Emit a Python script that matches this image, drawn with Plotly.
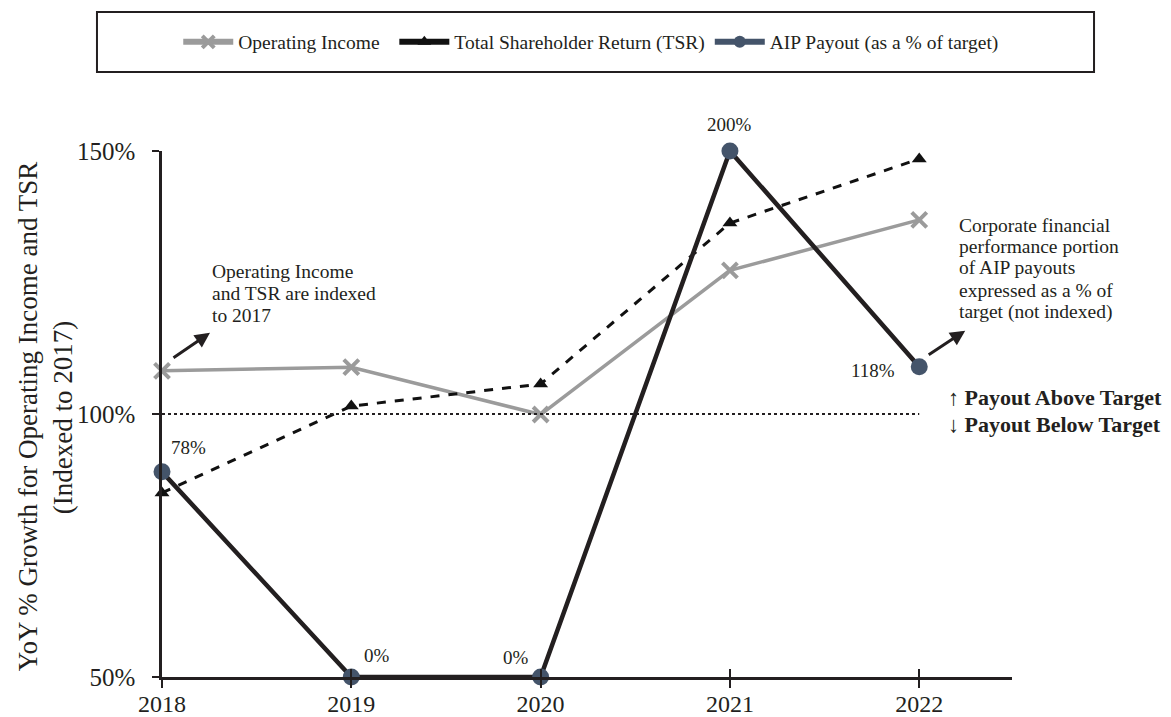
import plotly.graph_objects as go

years = [2018, 2019, 2020, 2021, 2022]
operating_income = [108.2, 108.9, 99.9, 127.3, 136.9]
tsr = [85.0, 101.5, 105.7, 136.3, 148.5]
aip_payout = [78, 0, 0, 200, 118]
y_ticks = [50, 100, 150]

FONT = "Liberation Serif"
INK = "#231f20"
GRAY = "#9b9b9b"
SLATE = "#44546a"
NB = "\u00a0"

fig = go.Figure()

# real traces
fig.add_trace(go.Scatter(
    x=years, y=operating_income, mode="lines+markers", showlegend=False,
    line=dict(color=GRAY, width=3.5),
    marker=dict(symbol="x-thin", size=15, line=dict(color=GRAY, width=4)),
    cliponaxis=False))
fig.add_trace(go.Scatter(
    x=years, y=tsr, mode="lines+markers", showlegend=False,
    line=dict(color="#111111", width=3, dash="dash"),
    marker=dict(symbol="triangle-up", size=13, color="#111111"),
    cliponaxis=False))
fig.add_trace(go.Scatter(
    x=years, y=aip_payout, mode="lines+markers", showlegend=False, yaxis="y2",
    line=dict(color=INK, width=4.5),
    marker=dict(symbol="circle", size=17, color=SLATE),
    cliponaxis=False))
# empty trace so the upper half of the crossing x ticks is drawn
fig.add_trace(go.Scatter(x=[None], y=[None], xaxis="x2", showlegend=False, hoverinfo="skip"))

# legend entries
fig.add_trace(go.Scatter(x=[None], y=[None], mode="lines+markers", name="Operating Income" + NB * 2,
                         line=dict(color=GRAY, width=6),
                         marker=dict(symbol="x-thin", size=12, line=dict(color=GRAY, width=4))))
fig.add_trace(go.Scatter(x=[None], y=[None], mode="lines+markers", name="Total Shareholder Return (TSR)",
                         line=dict(color="#111111", width=6),
                         marker=dict(symbol="triangle-up", size=12, color="#111111")))
fig.add_trace(go.Scatter(x=[None], y=[None], mode="lines+markers", name="AIP Payout (as a % of target)",
                         line=dict(color=SLATE, width=6),
                         marker=dict(symbol="circle", size=12, color=SLATE)))

annotations = []
# data labels for AIP
label_shifts = [(26, 24), (26, 22), (-25, 20), (0, 27), (-46, -4)]
for xv, v, (dx, dy) in zip(years, aip_payout, label_shifts):
    annotations.append(dict(x=xv, y=v, xref="x", yref="y2", text=f"{v}%", showarrow=False,
                            xshift=dx, yshift=dy, font=dict(family=FONT, size=19, color=INK)))

# arrows
annotations.append(dict(x=years[0], y=operating_income[0], xref="x", yref="y", text="",
                        showarrow=True, arrowhead=2, arrowsize=1, arrowwidth=3, arrowcolor=INK,
                        ax=-38, ay=26, xshift=48, yshift=38))
annotations.append(dict(x=years[-1], y=aip_payout[-1], xref="x", yref="y2", text="",
                        showarrow=True, arrowhead=2, arrowsize=1, arrowwidth=3, arrowcolor=INK,
                        ax=-38, ay=25, xshift=46, yshift=36))

# y-axis title (two rotated lines)
y_title = ["YoY % Growth for Operating Income and TSR", "(Indexed to 2017)"]
for t, xx in zip(y_title, [-0.1576, -0.1165]):
    annotations.append(dict(x=xx, y=0.494, xref="paper", yref="paper", text=t, showarrow=False,
                            textangle=-90, xanchor="center", yanchor="middle",
                            font=dict(family=FONT, size=27, color=INK)))

# note texts (one annotation per line for tight spacing)
left_note = ["Operating Income", "and TSR are indexed", "to 2017"]
left_y = [0.770, 0.730, 0.688]
for t, yy in zip(left_note, left_y):
    annotations.append(dict(x=0.0565, y=yy, xref="paper", yref="paper", text=t, showarrow=False,
                            xanchor="left", yanchor="middle", font=dict(family=FONT, size=19.5, color=INK)))
right_note = ["Corporate financial", "performance portion", "of AIP payouts",
              "expressed as a % of", "target (not indexed)"]
right_y = [0.8593, 0.8175, 0.7776, 0.7357, 0.6939]
for t, yy in zip(right_note, right_y):
    annotations.append(dict(x=0.9353, y=yy, xref="paper", yref="paper", text=t, showarrow=False,
                            xanchor="left", yanchor="middle", font=dict(family=FONT, size=19.5, color=INK)))
annotations.append(dict(x=0.9225, y=0.5323, xref="paper", yref="paper", text="<b>↑ Payout Above Target</b>",
                        showarrow=False, xanchor="left", yanchor="middle",
                        font=dict(family=FONT, size=22, color=INK)))
annotations.append(dict(x=0.9225, y=0.4791, xref="paper", yref="paper", text="<b>↓ Payout Below Target</b>",
                        showarrow=False, xanchor="left", yanchor="middle",
                        font=dict(family=FONT, size=22, color=INK)))

shapes = [
    dict(type="line", xref="x", yref="y", x0=years[0], x1=years[-1], y0=100, y1=100,
         line=dict(color=INK, width=1.8, dash="dot")),
    dict(type="rect", xref="paper", yref="paper", x0=-0.0765, x1=1.0965, y0=1.150, y1=1.2643,
         line=dict(color=INK, width=2)),
]

fig.update_layout(
    width=1171, height=717,
    margin=dict(l=162, r=159, t=151, b=40),
    paper_bgcolor="white", plot_bgcolor="white",
    font=dict(family=FONT, color=INK),
    showlegend=True,
    legend=dict(orientation="h", x=0.505, xanchor="center", y=1.207, yanchor="middle",
                font=dict(family=FONT, size=19.5, color=INK), bgcolor="rgba(0,0,0,0)",
                itemwidth=50, tracegroupgap=0),
    xaxis=dict(range=[2018, 2022.49], tickvals=years, ticktext=[str(y) for y in years],
               showgrid=False, zeroline=False, showline=True, linecolor=INK, linewidth=2.5,
               ticks="outside", ticklen=8, tickwidth=2, tickcolor=INK, automargin=False,
               ticklabelstandoff=-5,
               tickfont=dict(family=FONT, size=24, color=INK)),
    xaxis2=dict(range=[2018, 2022.49], overlaying="x", anchor="y", side="bottom",
                tickvals=years, showticklabels=False, showgrid=False, zeroline=False,
                showline=False, ticks="inside", ticklen=8, tickwidth=2, tickcolor=INK,
                automargin=False),
    yaxis=dict(range=[50, 150], tickvals=y_ticks, ticktext=[f"{v}%" for v in y_ticks],
               showgrid=False, zeroline=False, showline=True, linecolor=INK, linewidth=2.5,
               ticks="outside", ticklen=7, tickwidth=2, tickcolor=INK, ticklabelstandoff=12,
               tickfont=dict(family=FONT, size=25, color=INK), automargin=False),
    yaxis2=dict(range=[0, 200], overlaying="y", visible=False),
    annotations=annotations,
    shapes=shapes,
)

fig.write_html("out.html")
